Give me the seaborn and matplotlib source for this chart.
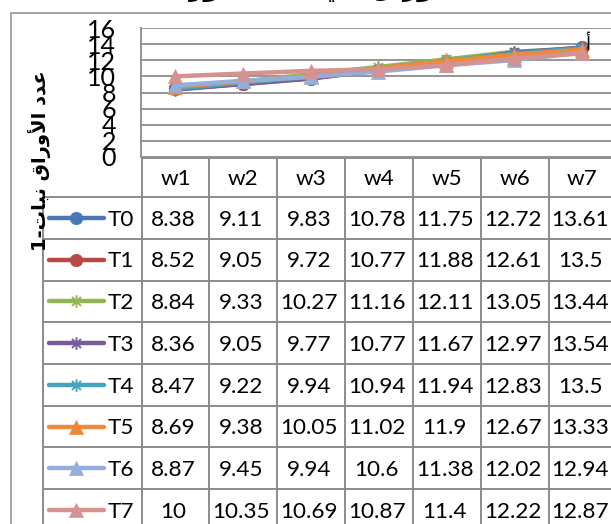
import numpy as np
import pandas as pd
import matplotlib
matplotlib.use("Agg")
import matplotlib.pyplot as plt
import seaborn as sns
from matplotlib.path import Path
from matplotlib.patches import Rectangle

# ---------------- data ----------------
weeks = ["w1", "w2", "w3", "w4", "w5", "w6", "w7"]
treatments = ["T0", "T1", "T2", "T3", "T4", "T5", "T6", "T7"]
T0 = [8.38, 9.11, 9.83, 10.78, 11.75, 12.72, 13.61]
T1 = [8.52, 9.05, 9.72, 10.77, 11.88, 12.61, 13.5]
T2 = [8.84, 9.33, 10.27, 11.16, 12.11, 13.05, 13.44]
T3 = [8.36, 9.05, 9.77, 10.77, 11.67, 12.97, 13.54]
T4 = [8.47, 9.22, 9.94, 10.94, 11.94, 12.83, 13.5]
T5 = [8.69, 9.38, 10.05, 11.02, 11.9, 12.67, 13.33]
T6 = [8.87, 9.45, 9.94, 10.6, 11.38, 12.02, 12.94]
T7 = [10, 10.35, 10.69, 10.87, 11.4, 12.22, 12.87]
series = [T0, T1, T2, T3, T4, T5, T6, T7]
yticks = [0, 2, 4, 6, 8, 10, 12, 14, 16]
y_label = "عدد الأوراق نبات"
y_label_suffix = "-1"
title_main = "عدد الأوراق في النبات"
title_paren = "ورقة"
sig_letter = "أ"

# ---------------- styles ----------------
colors = ["#4A78B5", "#BA4844", "#93B553", "#775C9C", "#45A3BE",
          "#EC8A3C", "#93AEDA", "#D69290"]
star = Path([(0, -1), (0, 1), (-0.72, -0.72), (0.72, 0.72), (-0.72, 0.72), (0.72, -0.72)],
            [Path.MOVETO, Path.LINETO] * 3)
markers = ["o", "o", star, star, star, "^", "^", "^"]
msizes = [9, 9, 9, 9, 9, 10, 10, 10]

# ---------------- minimal Arabic shaping (visual order) ----------------
FORMS = {  # isolated, final, initial, medial
    "ا": ("\uFE8D", "\uFE8E", None, None),
    "أ": ("\uFE83", "\uFE84", None, None),
    "ب": ("\uFE8F", "\uFE90", "\uFE91", "\uFE92"),
    "ة": ("\uFE93", "\uFE94", None, None),
    "ت": ("\uFE95", "\uFE96", "\uFE97", "\uFE98"),
    "د": ("\uFEA9", "\uFEAA", None, None),
    "ر": ("\uFEAD", "\uFEAE", None, None),
    "ع": ("\uFEC9", "\uFECA", "\uFECB", "\uFECC"),
    "ف": ("\uFED1", "\uFED2", "\uFED3", "\uFED4"),
    "ق": ("\uFED5", "\uFED6", "\uFED7", "\uFED8"),
    "ل": ("\uFEDD", "\uFEDE", "\uFEDF", "\uFEE0"),
    "ن": ("\uFEE5", "\uFEE6", "\uFEE7", "\uFEE8"),
    "و": ("\uFEED", "\uFEEE", None, None),
    "ي": ("\uFEF1", "\uFEF2", "\uFEF3", "\uFEF4"),
}
LAM_ALEF = {"ا": ("\uFEFB", "\uFEFC"), "أ": ("\uFEF7", "\uFEF8")}


def shape_word(word):
    out = []
    i = 0
    letters = list(word)
    prev_joins = False
    while i < len(letters):
        ch = letters[i]
        if ch == "ل" and i + 1 < len(letters) and letters[i + 1] in LAM_ALEF:
            iso, fin = LAM_ALEF[letters[i + 1]]
            out.append(fin if prev_joins else iso)
            prev_joins = False
            i += 2
            continue
        f = FORMS.get(ch)
        if f is None:
            out.append(ch)
            prev_joins = False
            i += 1
            continue
        nxt = i + 1 < len(letters) and letters[i + 1] in FORMS
        can_next = f[2] is not None and nxt
        if prev_joins and can_next:
            out.append(f[3])
        elif prev_joins:
            out.append(f[1])
        elif can_next:
            out.append(f[2])
        else:
            out.append(f[0])
        prev_joins = f[2] is not None
        i += 1
    return "".join(out)


def visual(text):
    return " ".join(shape_word(w) for w in text.split(" "))[::-1]


# ---------------- figure ----------------
sns.set_theme(style="white")
plt.rcParams["font.family"] = ["Lato", "DejaVu Sans"]

W, H = 611, 524
fig = plt.figure(figsize=(W / 100, H / 100), dpi=100)
fig.patch.set_facecolor("white")


def px_box(left, top, width, height):
    return [left / W, 1 - (top + height) / H, width / W, height / H]


grid_c = "#8C8C8C"
col_w = 67.8
plot_left, plot_top, plot_bottom = 141.0, 28.0, 157.0
ncol = len(weeks)
pos = np.arange(ncol)

# outer chart border
fig.add_artist(Rectangle((10.5 / W, -0.2), 2.0, 1.2 - 13 / H, transform=fig.transFigure,
                         fill=False, ec=grid_c, lw=1.1))

ax = fig.add_axes(px_box(plot_left, plot_top, col_w * ncol, plot_bottom - plot_top))
ax.set_facecolor("none")
for k, (vals, c, m, ms) in enumerate(zip(series, colors, markers, msizes)):
    is_star = m is star
    sns.lineplot(x=pos, y=vals, ax=ax, color=c, linewidth=3.2, marker=m, markersize=ms,
                 markeredgecolor=c, markerfacecolor=c if not is_star else "none",
                 markeredgewidth=1.4 if is_star else 0.5, legend=False, zorder=3 + k,
                 solid_capstyle="round", clip_on=False)
ax.annotate(sig_letter, xy=(pos[-1], T0[-1]), xytext=(4, 2), textcoords="offset points",
            ha="center", va="center", fontsize=13, family="DejaVu Sans", color="black",
            zorder=20)
ax.set_xlim(-0.5, ncol - 0.5)
ax.set_ylim(yticks[0], yticks[-1])
ax.set_yticks(yticks)
ax.set_yticklabels([str(t) for t in yticks], fontsize=18, color="black")
ax.set_xticks([])
ax.set_xlabel("")
ax.set_ylabel("")
ax.yaxis.grid(True, color=grid_c, lw=1.3)
ax.tick_params(axis="y", length=0, pad=18)
for s in ["top", "right", "bottom"]:
    ax.spines[s].set_visible(False)
ax.spines["left"].set_color(grid_c)
ax.spines["left"].set_linewidth(1.3)

# ---------------- data table ----------------
hw = (plot_left + 0.7 - 42.7) / col_w
head_h, row_h = 39.2, 41.7
nrow = len(treatments)
h0 = head_h / row_h
tab = fig.add_axes(px_box(plot_left + 0.7 - hw * col_w, 158.0, col_w * (ncol + hw),
                          head_h + nrow * row_h))
tab.set_xlim(-0.5 - hw, ncol - 0.5)
tab.set_ylim(nrow, -h0)
tab.axis("off")
lkw = dict(color=grid_c, lw=1.4, clip_on=False)
tab.hlines([-h0], -0.5, ncol - 0.5, **lkw)
tab.hlines(np.arange(nrow + 1), -0.5 - hw, ncol - 0.5, **lkw)
tab.vlines(np.arange(ncol + 1) - 0.5, -h0, nrow, **lkw)
tab.vlines([-0.5 - hw], 0, nrow, **lkw)

fs = 16.2
for j, w in enumerate(weeks):
    tab.text(j, -h0 / 2 + 0.04, w, ha="center", va="center", fontsize=fs, color="black")

x_l = -0.5 - hw
k0, k1 = x_l + 6.3 / col_w, x_l + 61.3 / col_w
for i, (name, vals, c, m, ms) in enumerate(zip(treatments, series, colors, markers, msizes)):
    yc = i + 0.5
    tab.plot([k0, k1], [yc, yc], color=c, lw=3.2, solid_capstyle="round", clip_on=False)
    is_star = m is star
    tab.plot([(k0 + k1) / 2], [yc], marker=m, ms=ms, color=c, mec=c,
             mfc=c if not is_star else "none", mew=1.4 if is_star else 0.5, clip_on=False)
    tab.text(x_l + 64.5 / col_w, yc + 0.04, name, ha="left", va="center", fontsize=fs,
             color="black", clip_on=False)
    for j, v in enumerate(vals):
        tab.text(j - 0.03, yc + 0.04, f"{v:g}", ha="center", va="center", fontsize=fs,
                 color="black", clip_on=False)

# ---------------- axis title and (cropped) chart title ----------------
fig.text(40 / W, 1 - 161 / H, y_label_suffix[::-1] + visual(y_label), rotation=90,
         ha="center", va="center", fontsize=14, fontweight="bold", family="DejaVu Sans",
         color="black")
fig.text(330 / W, 1 + 4 / H, "(" + visual(title_paren) + ") " + visual(title_main),
         ha="center", va="baseline", fontsize=18, fontweight="bold", family="DejaVu Sans",
         color="black")

fig.savefig("out.png", dpi=100, facecolor="white")
